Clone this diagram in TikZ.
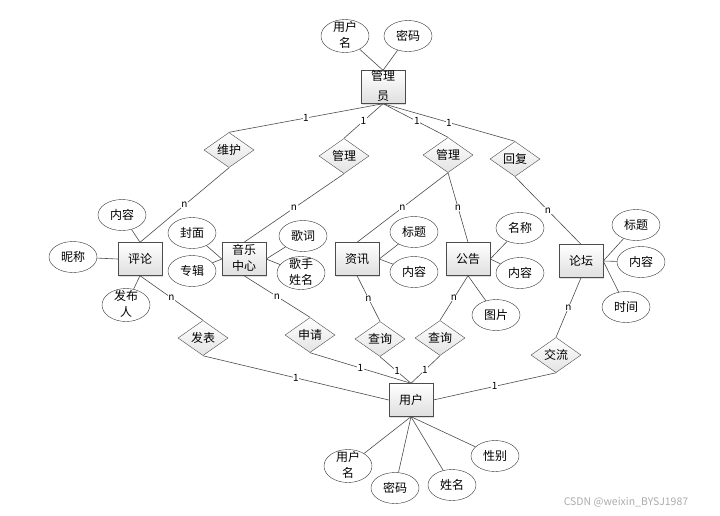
\documentclass[tikz,border=0pt]{standalone}
\usepackage{fontspec}
\setmainfont{Noto Sans CJK SC}
\usepackage{tikz}
\usetikzlibrary{shapes.geometric, shadows}
\usepackage{xcolor}

\newcommand\twol[3][0pt]{\smash{\raisebox{-3.5pt}{\begin{tabular}{@{}c@{}}#2\\[#1]#3\end{tabular}}}}

\begin{document}
\begin{tikzpicture}[x=1pt, y=-1pt, font=\fontsize{12}{16}\selectfont,
    ent/.style={draw=gray!60!black, top color=white, bottom color=gray!25, drop shadow={shadow xshift=1.2pt, shadow yshift=-1.2pt, opacity=0.25}, minimum width=44pt, minimum height=33pt, inner sep=0pt},
    rel/.style={diamond, draw=gray!60!black, top color=white, bottom color=gray!22, minimum width=50pt, minimum height=29pt, inner sep=0pt},
    attr/.style={ellipse, draw=black!80, fill=white, minimum width=48pt, minimum height=31pt, inner sep=0pt},
    lnk/.style={draw=gray!60!black, line width=0.6pt},
    card/.style={fill=white, inner sep=0.6pt, font=\fontsize{10}{11}\selectfont}]
    \useasboundingbox (0,0) rectangle (720,515);
    \node[ent] (gly) at (383,87) {\twol[4pt]{管理}{员}};
    \node[attr, minimum height=33pt] (yhm1) at (345,36) {\twol{用户}{名}};
    \node[attr] (mm1) at (408,36) {密码};
    \node[rel] (wh) at (229,150) {维护};
    \node[rel] (gl1) at (344,156) {管理};
    \node[rel] (gl2) at (448,155) {管理};
    \node[rel] (hf) at (515,159) {回复};
    \node[ent] (pl) at (140,259) {评论};
    \node[ent] (yy) at (244,259) {\twol{音乐}{中心}};
    \node[ent] (zx) at (357,259) {资讯};
    \node[ent] (gg) at (468,259) {公告};
    \node[ent] (lt) at (581,261) {论坛};
    \node[ent] (yh) at (411,400) {用户};
    \node[attr] (nr1) at (122,215) {内容};
    \node[attr] (nc) at (73,257) {昵称};
    \node[attr, minimum height=33pt] (fbr) at (126,305) {\twol{发布}{人}};
    \node[attr] (fm) at (192,233) {封面};
    \node[attr] (zj) at (192,271) {专辑};
    \node[attr] (gc) at (303,236) {歌词};
    \node[attr, minimum height=33pt] (gsxm) at (301,273) {\twol{歌手}{姓名}};
    \node[attr] (bt1) at (414,232) {标题};
    \node[attr] (nr2) at (414,272) {内容};
    \node[attr] (mc) at (520,228) {名称};
    \node[attr] (nr3) at (520,273) {内容};
    \node[attr] (tp) at (496,315) {图片};
    \node[attr] (bt2) at (636,225) {标题};
    \node[attr] (nr4) at (641,262) {内容};
    \node[attr] (sj) at (626,307) {时间};
    \node[rel] (fb) at (203,338) {发表};
    \node[rel] (sq) at (310,335) {申请};
    \node[rel] (cx1) at (380,339) {查询};
    \node[rel] (cx2) at (440,338) {查询};
    \node[rel] (jl) at (556,355) {交流};
    \node[attr, minimum height=33pt] (yhm2) at (348,466) {\twol{用户}{名}};
    \node[attr] (mm2) at (395,488) {密码};
    \node[attr] (xm) at (452,485) {姓名};
    \node[attr] (xb) at (495,456) {性别};
    \node[text=gray!65, font=\fontsize{10.5}{12}\selectfont] (wm) at (626,502) {CSDN @weixin\_BYSJ1987};

    \draw[lnk] (yhm1) -- (gly.north);
    \draw[lnk] (mm1) -- (gly.north);
    \draw[lnk] (gly.south) -- node[card]{1} (wh.north);
    \draw[lnk] (gly.south) -- node[card]{1} (gl1.north);
    \draw[lnk] (gly.south) -- node[card, pos=.52]{1} (gl2.north);
    \draw[lnk] (gly.south) -- node[card]{1} (hf.north);
    \draw[lnk] (wh.south) -- node[card]{n} (pl.north);
    \draw[lnk] (gl1.south) -- node[card]{n} (yy.north);
    \draw[lnk] (gl2.south) -- node[card]{n} (zx.north);
    \draw[lnk] (gl2.south) -- node[card]{n} (gg.north);
    \draw[lnk] (hf.south) -- node[card]{n} (lt.north);
    \draw[lnk] (nr1) -- (pl.north);
    \draw[lnk] (nc) -- (pl.west);
    \draw[lnk] (fbr) -- (pl.south);
    \draw[lnk] (fm) -- (yy.west);
    \draw[lnk] (zj) -- (yy.west);
    \draw[lnk] (gc) -- (yy.east);
    \draw[lnk] (gsxm) -- (yy.east);
    \draw[lnk] (bt1) -- (zx.east);
    \draw[lnk] (nr2) -- (zx.east);
    \draw[lnk] (mc) -- (gg.east);
    \draw[lnk] (nr3) -- (gg.east);
    \draw[lnk] (tp) -- (gg.south);
    \draw[lnk] (bt2) -- (lt.east);
    \draw[lnk] (nr4) -- (lt.east);
    \draw[lnk] (sj) -- (lt.east);
    \draw[lnk] (pl.south) -- node[card]{n} (fb.north);
    \draw[lnk] (yy.south) -- node[card]{n} (sq.north);
    \draw[lnk] (zx.south) -- node[card]{n} (cx1.north);
    \draw[lnk] (gg.south) -- node[card]{n} (cx2.north);
    \draw[lnk] (lt.south) -- node[card]{n} (jl.north);
    \draw[lnk] (fb.south) -- node[card]{1} (yh.west);
    \draw[lnk] (sq.south) -- node[card]{1} (yh.north);
    \draw[lnk] (cx1.south) -- node[card, pos=.55]{1} (yh.north);
    \draw[lnk] (cx2.south) -- node[card, pos=.52]{1} (yh.north);
    \draw[lnk] (jl.south) -- node[card]{1} (yh.east);
    \draw[lnk] (yh.south) -- (yhm2);
    \draw[lnk] (yh.south) -- (mm2);
    \draw[lnk] (yh.south) -- (xm);
    \draw[lnk] (yh.south) -- (xb);
\end{tikzpicture}
\end{document}
